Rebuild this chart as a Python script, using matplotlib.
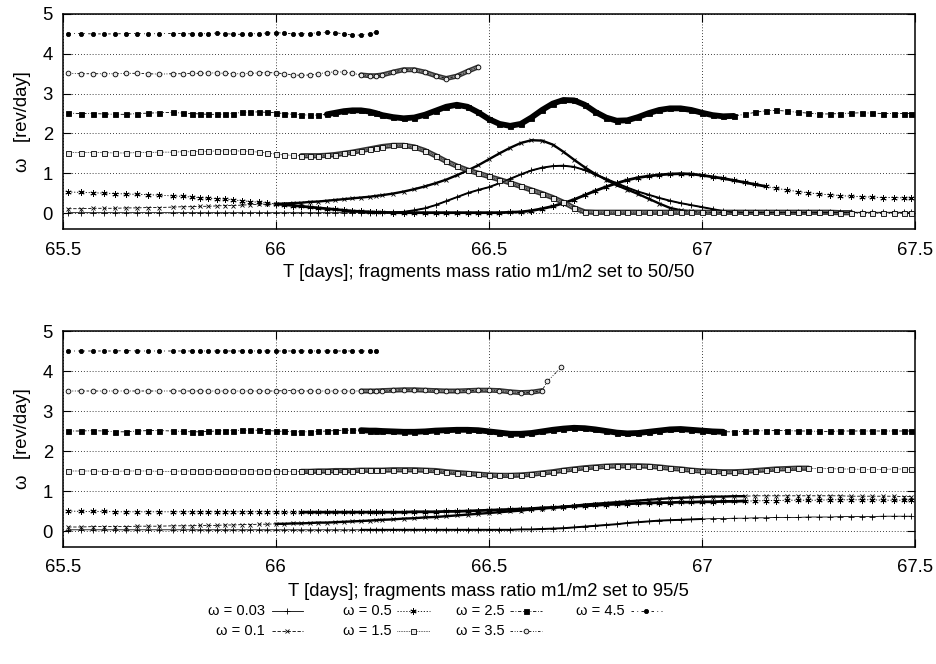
import numpy as np
import matplotlib
matplotlib.use("Agg")
import matplotlib.pyplot as plt

plt.rcParams['font.family'] = ['Liberation Sans', 'DejaVu Sans']

# initial spin rates, one curve each (legend order)
OMEGAS = [0.03, 0.1, 0.5, 1.5, 2.5, 3.5, 4.5]
LEGEND_LABELS = ["ω = 0.03", "ω = 0.1", "ω = 0.5", "ω = 1.5",
                 "ω = 2.5", "ω = 3.5", "ω = 4.5"]
XLABELS = ["T [days]; fragments mass ratio m1/m2 set to 50/50",
           "T [days]; fragments mass ratio m1/m2 set to 95/5"]
YLABEL = "ω   [rev/day]"
XTICKS = [65.5, 66.0, 66.5, 67.0, 67.5]
XTICK_LABELS = ["65.5", "66", "66.5", "67", "67.5"]
YTICKS = [0, 1, 2, 3, 4, 5]

# sample times [days]
T_EARLY = [65.513, 65.543, 65.570, 65.597, 65.623, 65.649, 65.675, 65.701, 65.727, 65.758,
           65.782, 65.803, 65.822, 65.842, 65.861, 65.881, 65.900, 65.920, 65.940, 65.960,
           65.980, 66.000, 66.020, 66.040, 66.060, 66.080, 66.100, 66.120, 66.140, 66.160,
           66.180, 66.200, 66.220, 66.235]
T_LATE = [66.250, 66.275, 66.300, 66.325, 66.350, 66.375, 66.400, 66.425, 66.450, 66.475,
          66.500, 66.525, 66.550, 66.575, 66.600, 66.625, 66.650, 66.675, 66.700, 66.725,
          66.750, 66.775, 66.800, 66.825, 66.850, 66.875, 66.900, 66.925, 66.950, 66.975,
          67.000, 67.025, 67.050, 67.075, 67.100, 67.125, 67.150, 67.175, 67.200, 67.225,
          67.250, 67.275, 67.300, 67.325, 67.350, 67.375, 67.400, 67.425, 67.450, 67.475,
          67.490]
T_FULL = T_EARLY + T_LATE
T_B35 = T_EARLY + T_LATE[:16] + [66.637, 66.670]

# ---- panel a: mass ratio 50/50 ----
A_W003 = [0.01] * 34 + [
    0.01, 0.02, 0.03, 0.07, 0.12, 0.20, 0.30, 0.40, 0.50, 0.58,
    0.65, 0.75, 0.86, 0.97, 1.07, 1.14, 1.18, 1.19, 1.16, 1.08,
    0.97, 0.86, 0.75, 0.64, 0.54, 0.46, 0.38, 0.31, 0.25, 0.20,
    0.15, 0.10, 0.05, 0.03, 0.02, 0.02, 0.02, 0.02, 0.02, 0.02,
    0.02, 0.02, 0.02, 0.02, 0.02, 0.02, 0.02, 0.02, 0.02, 0.02,
    0.02]
A_W01 = [
    0.11, 0.11, 0.12, 0.12, 0.12, 0.13, 0.13, 0.14, 0.14, 0.15,
    0.16, 0.16, 0.17, 0.17, 0.18, 0.19, 0.19, 0.20, 0.21, 0.22,
    0.22, 0.23, 0.24, 0.25, 0.26, 0.28, 0.29, 0.31, 0.33, 0.35,
    0.37, 0.39, 0.41, 0.43] + [
    0.45, 0.49, 0.54, 0.60, 0.67, 0.75, 0.84, 0.95, 1.07, 1.20,
    1.35, 1.50, 1.64, 1.76, 1.83, 1.82, 1.72, 1.54, 1.34, 1.15,
    0.98, 0.84, 0.70, 0.59, 0.48, 0.36, 0.24, 0.13, 0.07, 0.04,
    0.02, 0.02, 0.01, 0.01, 0.01, 0.01, 0.01, 0.01, 0.01, 0.01,
    0.01, 0.01, 0.01, 0.01, 0.01, 0.01, 0.01, 0.01, 0.01, 0.01,
    0.01]
A_W05 = [
    0.53, 0.52, 0.51, 0.50, 0.49, 0.48, 0.47, 0.46, 0.45, 0.43,
    0.42, 0.40, 0.39, 0.37, 0.36, 0.35, 0.33, 0.31, 0.29, 0.27,
    0.25, 0.23, 0.21, 0.19, 0.17, 0.15, 0.13, 0.11, 0.09, 0.07,
    0.05, 0.04, 0.03, 0.02] + [
    0.02, 0.01, 0.01, 0.01, 0.01, 0.01, 0.01, 0.01, 0.01, 0.01,
    0.01, 0.01, 0.02, 0.03, 0.06, 0.11, 0.17, 0.25, 0.34, 0.45,
    0.56, 0.66, 0.75, 0.83, 0.89, 0.93, 0.96, 0.98, 0.99, 0.98,
    0.95, 0.91, 0.87, 0.82, 0.77, 0.72, 0.67, 0.62, 0.58, 0.54,
    0.51, 0.48, 0.46, 0.44, 0.42, 0.41, 0.40, 0.39, 0.39, 0.38,
    0.38]
A_W15 = [
    1.52, 1.52, 1.52, 1.52, 1.51, 1.51, 1.52, 1.52, 1.53, 1.53,
    1.54, 1.54, 1.55, 1.55, 1.56, 1.56, 1.56, 1.56, 1.55, 1.53,
    1.51, 1.48, 1.46, 1.45, 1.44, 1.44, 1.44, 1.45, 1.47, 1.50,
    1.53, 1.57, 1.61, 1.64] + [
    1.67, 1.70, 1.70, 1.66, 1.57, 1.44, 1.30, 1.18, 1.08, 1.00,
    0.92, 0.84, 0.76, 0.67, 0.58, 0.49, 0.39, 0.27, 0.13, 0.03,
    0.02, 0.02, 0.02, 0.02, 0.02, 0.02, 0.02, 0.02, 0.02, 0.02,
    0.02, 0.02, 0.02, 0.02, 0.02, 0.02, 0.02, 0.02, 0.02, 0.02,
    0.02, 0.02, 0.02, 0.01, 0.01, 0.01, 0.00, 0.00, 0.00, -0.01,
    -0.01]
A_W25 = [
    2.51, 2.50, 2.50, 2.49, 2.48, 2.48, 2.50, 2.51, 2.52, 2.53,
    2.51, 2.50, 2.49, 2.48, 2.48, 2.49, 2.50, 2.53, 2.54, 2.54,
    2.53, 2.52, 2.50, 2.48, 2.47, 2.46, 2.46, 2.48, 2.52, 2.56,
    2.58, 2.58, 2.55, 2.51] + [
    2.46, 2.41, 2.38, 2.40, 2.47, 2.57, 2.67, 2.72, 2.67, 2.53,
    2.36, 2.24, 2.19, 2.24, 2.40, 2.59, 2.75, 2.84, 2.83, 2.72,
    2.54, 2.40, 2.32, 2.33, 2.41, 2.51, 2.59, 2.63, 2.63, 2.59,
    2.52, 2.46, 2.43, 2.44, 2.48, 2.53, 2.57, 2.58, 2.56, 2.53,
    2.51, 2.49, 2.49, 2.50, 2.51, 2.52, 2.51, 2.50, 2.50, 2.50,
    2.50]
A_W35 = [
    3.51, 3.50, 3.50, 3.50, 3.50, 3.51, 3.51, 3.50, 3.49, 3.50,
    3.50, 3.51, 3.51, 3.52, 3.52, 3.51, 3.50, 3.50, 3.51, 3.52,
    3.53, 3.52, 3.50, 3.47, 3.46, 3.47, 3.50, 3.53, 3.55, 3.54,
    3.51, 3.47, 3.45, 3.45] + [
    3.47, 3.54, 3.60, 3.60, 3.54, 3.45, 3.38, 3.44, 3.56, 3.67]
A_W45 = [
    4.51, 4.51, 4.50, 4.50, 4.50, 4.51, 4.51, 4.50, 4.51, 4.51,
    4.51, 4.50, 4.50, 4.51, 4.52, 4.51, 4.49, 4.49, 4.50, 4.51,
    4.52, 4.53, 4.52, 4.50, 4.50, 4.51, 4.53, 4.54, 4.53, 4.50,
    4.47, 4.47, 4.50, 4.54]

# ---- panel b: mass ratio 95/5 ----
B_W003 = [0.03] * 34 + [
    0.03, 0.03, 0.03, 0.03, 0.03, 0.03, 0.03, 0.03, 0.03, 0.03,
    0.03, 0.03, 0.03, 0.04, 0.04, 0.05, 0.06, 0.07, 0.09, 0.11,
    0.13, 0.15, 0.17, 0.20, 0.22, 0.24, 0.26, 0.27, 0.28, 0.29,
    0.30, 0.31, 0.31, 0.32, 0.32, 0.33, 0.33, 0.34, 0.34, 0.34,
    0.35, 0.35, 0.35, 0.36, 0.36, 0.36, 0.36, 0.37, 0.37, 0.37,
    0.37]
B_W01 = [
    0.10, 0.10, 0.11, 0.11, 0.11, 0.11, 0.12, 0.12, 0.12, 0.13,
    0.13, 0.13, 0.14, 0.14, 0.14, 0.15, 0.15, 0.16, 0.16, 0.17,
    0.17, 0.18, 0.18, 0.19, 0.19, 0.20, 0.21, 0.21, 0.22, 0.23,
    0.24, 0.25, 0.26, 0.27] + [
    0.28, 0.29, 0.31, 0.32, 0.34, 0.35, 0.37, 0.39, 0.41, 0.43,
    0.45, 0.47, 0.49, 0.51, 0.54, 0.56, 0.58, 0.61, 0.63, 0.66,
    0.68, 0.70, 0.72, 0.74, 0.76, 0.78, 0.80, 0.82, 0.83, 0.84,
    0.85, 0.86, 0.86, 0.87, 0.87, 0.88, 0.88, 0.88, 0.88, 0.88,
    0.88, 0.88, 0.88, 0.88, 0.87, 0.87, 0.87, 0.87, 0.87, 0.86,
    0.86]
B_W05 = [
    0.50, 0.49, 0.49, 0.49, 0.48, 0.48, 0.48, 0.48, 0.48, 0.48,
    0.48, 0.48, 0.48, 0.48, 0.48, 0.48, 0.48, 0.48, 0.48, 0.48,
    0.48, 0.48, 0.47, 0.47, 0.47, 0.47, 0.47, 0.47, 0.47, 0.47,
    0.47, 0.47, 0.47, 0.47] + [
    0.47, 0.47, 0.47, 0.48, 0.48, 0.48, 0.49, 0.49, 0.50, 0.51,
    0.52, 0.53, 0.54, 0.55, 0.56, 0.58, 0.59, 0.60, 0.62, 0.63,
    0.64, 0.66, 0.67, 0.68, 0.69, 0.70, 0.71, 0.71, 0.72, 0.72,
    0.73, 0.73, 0.74, 0.74, 0.75, 0.75, 0.76, 0.76, 0.77, 0.77,
    0.77, 0.77, 0.78, 0.78, 0.78, 0.78, 0.78, 0.77, 0.77, 0.77,
    0.77]
B_W15 = [
    1.50, 1.50, 1.50, 1.49, 1.49, 1.50, 1.50, 1.50, 1.49, 1.49,
    1.50, 1.50, 1.50, 1.50, 1.49, 1.49, 1.50, 1.50, 1.50, 1.50,
    1.50, 1.50, 1.49, 1.49, 1.49, 1.49, 1.50, 1.50, 1.51, 1.51,
    1.51, 1.52, 1.52, 1.52] + [
    1.52, 1.53, 1.53, 1.53, 1.52, 1.51, 1.48, 1.46, 1.44, 1.42,
    1.40, 1.39, 1.39, 1.40, 1.42, 1.45, 1.48, 1.52, 1.55, 1.58,
    1.60, 1.62, 1.63, 1.63, 1.63, 1.62, 1.60, 1.57, 1.55, 1.52,
    1.50, 1.49, 1.48, 1.48, 1.49, 1.51, 1.53, 1.55, 1.56, 1.57,
    1.57, 1.56, 1.56, 1.55, 1.55, 1.54, 1.54, 1.54, 1.55, 1.55,
    1.54]
B_W25 = [
    2.50, 2.50, 2.51, 2.50, 2.48, 2.48, 2.50, 2.51, 2.51, 2.50,
    2.49, 2.48, 2.48, 2.49, 2.50, 2.51, 2.51, 2.52, 2.52, 2.52,
    2.51, 2.50, 2.49, 2.48, 2.48, 2.48, 2.49, 2.50, 2.51, 2.52,
    2.52, 2.52, 2.51, 2.51] + [
    2.50, 2.49, 2.48, 2.48, 2.49, 2.51, 2.52, 2.53, 2.53, 2.52,
    2.49, 2.46, 2.43, 2.43, 2.45, 2.49, 2.53, 2.56, 2.58, 2.57,
    2.54, 2.50, 2.46, 2.44, 2.45, 2.48, 2.51, 2.54, 2.55, 2.53,
    2.51, 2.49, 2.48, 2.48, 2.49, 2.50, 2.51, 2.51, 2.51, 2.50,
    2.50, 2.49, 2.49, 2.50, 2.50, 2.50, 2.50, 2.50, 2.50, 2.50,
    2.50]
B_W35 = [3.50] * 20 + [
    3.50, 3.50, 3.51, 3.51, 3.50, 3.50, 3.50, 3.50, 3.50, 3.50,
    3.50, 3.50, 3.50, 3.50] + [
    3.51, 3.52, 3.53, 3.53, 3.52, 3.51, 3.50, 3.50, 3.51, 3.52,
    3.52, 3.51, 3.48, 3.46, 3.47, 3.51, 3.74, 4.09]
B_W45 = [
    4.50, 4.50, 4.50, 4.50, 4.50, 4.51, 4.50, 4.50, 4.50, 4.50,
    4.50, 4.50, 4.50, 4.50, 4.50, 4.50, 4.50, 4.50, 4.50, 4.50,
    4.50, 4.50, 4.50, 4.50, 4.50, 4.50, 4.50, 4.50, 4.50, 4.50,
    4.50, 4.50, 4.50, 4.50]

SERIES_A = [(T_FULL, A_W003), (T_FULL, A_W01), (T_FULL, A_W05), (T_FULL, A_W15),
            (T_FULL, A_W25), (T_FULL[:44], A_W35), (T_EARLY, A_W45)]
SERIES_B = [(T_FULL, B_W003), (T_FULL, B_W01), (T_FULL, B_W05), (T_FULL, B_W15),
            (T_FULL, B_W25), (T_B35, B_W35), (T_EARLY, B_W45)]

# where the simulation output is so dense that the markers merge into a band
DENSE_A = {0.03: (66.2, 67.1), 0.1: (66.0, 67.3), 0.5: (66.0, 67.15),
           1.5: (66.05, 67.35), 2.5: (66.12, 67.08), 3.5: (66.2, 66.48)}
DENSE_B = {0.03: (66.2, 67.0), 0.1: (66.0, 67.1), 0.5: (66.05, 67.1),
           1.5: (66.05, 67.25), 2.5: (66.2, 67.05), 3.5: (66.2, 66.63)}

# gnuplot-like line types / point types
STYLE = {
    0.03: dict(ls='-', marker='+', ms=4.5, mfc='k'),
    0.1: dict(ls=(0, (4, 2)), marker='x', ms=3.5, mfc='k'),
    0.5: dict(ls=(0, (1.5, 2)), marker=(6, 2, 0), ms=4.5, mfc='k'),
    1.5: dict(ls=(0, (0.8, 1.2)), marker='s', ms=3.6, mfc='#e8e8e8'),
    2.5: dict(ls=(0, (4, 2, 1, 2)), marker='s', ms=3.6, mfc='k'),
    3.5: dict(ls=(0, (3, 2, 1, 2, 1, 2)), marker='o', ms=3.4, mfc='#e8e8e8'),
    4.5: dict(ls=(0, (3, 4, 1, 4)), marker='o', ms=3.0, mfc='k'),
}
BAND = {0.03: ('k', 1.4, None), 0.1: ('k', 1.7, None), 0.5: ('k', 2.0, None),
        1.5: ('#333333', 3.8, '#888888'), 2.5: ('k', 4.2, None),
        3.5: ('#333333', 3.6, '#888888')}
FONT = 13.3


def draw_panel(ax, series, dense, xlabel):
    for om, (t, w) in zip(OMEGAS, series):
        t = np.asarray(t)
        w = np.asarray(w)
        assert len(t) == len(w), (xlabel, om, len(t), len(w))
        st = STYLE[om]
        if om in dense:
            lo, hi = dense[om]
            m = (t >= lo) & (t <= hi)
            col, lw, inner = BAND[om]
            ax.plot(t[m], w[m], color=col, lw=lw, solid_capstyle='round', zorder=2)
            if inner:
                ax.plot(t[m], w[m], color=inner, lw=lw * 0.4, zorder=2.1)
        ax.plot(t, w, color='k', lw=0.6, ls=st['ls'], marker=st['marker'],
                ms=st['ms'], mfc=st['mfc'], mec='k', mew=0.6, zorder=3)

    ax.set_xlim(65.5, 67.5)
    ax.set_ylim(-0.4, 5)
    ax.set_xticks(XTICKS)
    ax.set_xticklabels(XTICK_LABELS)
    ax.set_yticks(YTICKS)
    ax.tick_params(direction='in', length=6, width=0.8, top=True, right=True,
                   labelsize=FONT)
    ax.tick_params(axis='x', pad=9)
    ax.tick_params(axis='y', pad=7)
    ax.grid(True, ls=(0, (1, 2.5)), lw=0.6, color='k')
    for s in ax.spines.values():
        s.set_linewidth(1.1)
    ax.set_xlabel(xlabel, fontsize=FONT)
    ax.set_ylabel(YLABEL, fontsize=FONT)
    ax.yaxis.set_label_coords(-0.037, 0.5)
    ax.xaxis.set_label_coords(0.5, -0.165)


fig = plt.figure(figsize=(9.37, 6.64), dpi=100)
ax_a = fig.add_axes([0.0669, 1 - 229 / 664, 0.9096, 215 / 664])
ax_b = fig.add_axes([0.0669, 1 - 547 / 664, 0.9096, 216 / 664])
draw_panel(ax_a, SERIES_A, DENSE_A, XLABELS[0])
draw_panel(ax_b, SERIES_B, DENSE_B, XLABELS[1])

# legend in pixel coordinates below the lower panel (gnuplot layout: text, then sample)
lax = fig.add_axes([0, 0, 1, 93 / 664])
lax.set_xlim(0, 937)
lax.set_ylim(664, 571)
lax.axis('off')
text_right = [265, 392, 505, 625]
sample_x = [(272, 303), (397, 430), (510, 542), (631, 662)]
row_y = [611, 631]
for i, (om, lab) in enumerate(zip(OMEGAS, LEGEND_LABELS)):
    col, row = i // 2, i % 2
    y = row_y[row]
    lax.text(text_right[col], y, lab, ha='right', va='center', fontsize=10.5)
    x0, x1 = sample_x[col]
    st = STYLE[om]
    lax.plot([x0, x1], [y, y], color='k', lw=0.6, ls=st['ls'])
    lax.plot([(x0 + x1) / 2], [y], ls='none', marker=st['marker'], ms=st['ms'],
             mfc=st['mfc'], mec='k', mew=0.6, color='k')

fig.savefig('out.png', dpi=100)
